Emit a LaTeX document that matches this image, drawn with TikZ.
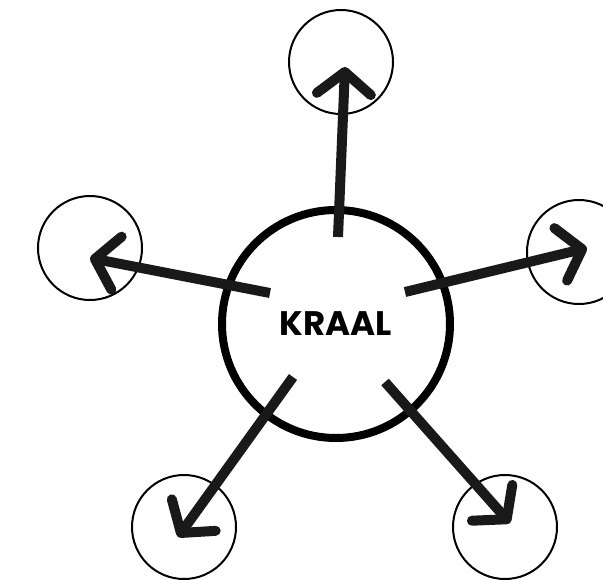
\documentclass[tikz,border=0pt]{standalone}
\usepackage{fontspec}
\setmainfont{Poppins}
\usetikzlibrary{arrows.meta}
\tikzset{
  ring/.style={circle, draw, line width=2pt, inner sep=0pt, minimum size=104pt},
  marker/.style={draw=black!90, line width=10pt,
    -{Straight Barb[length=22pt, width=54pt, round]}}
}
\begin{document}
\begin{tikzpicture}[x=1pt, y=-1pt]
            \useasboundingbox (0,0) rectangle (603,579);
            \clip (0,0) rectangle (603,579);
            % Kraal
            \node[circle, draw, line width=8pt, inner sep=0pt, minimum size=228pt,
              font=\bfseries\fontsize{34}{34}\selectfont] (kraal) at (336,324) {KRAAL};
            % Cerchi
            \node[ring] (cn) at (341,62) {};
            \node[ring] (cw) at (90,248) {};
            \node[ring] (ce) at (579,252) {};
            \node[ring] (csw) at (184,527) {};
            \node[ring] (cse) at (505,527) {};
            % Partenze
            \coordinate (sn) at (338,237);
            \coordinate (sw) at (270,293);
            \coordinate (se) at (405,292);
            \coordinate (ssw) at (293,377);
            \coordinate (sse) at (385,382);
            % Frecce
            \draw[marker] (sn) -- ([xshift=4pt, yshift=-5pt]cn.center);
            \draw[marker] (sw) -- ([yshift=-10pt]cw.center);
            \draw[marker] (se) -- ([xshift=8pt, yshift=4pt]ce.center);
            \draw[marker] (ssw) -- ([xshift=-6pt, yshift=-10pt]csw.center);
            \draw[marker] (sse) -- ([xshift=5pt, yshift=4pt]cse.center);
        \end{tikzpicture}
\end{document}
